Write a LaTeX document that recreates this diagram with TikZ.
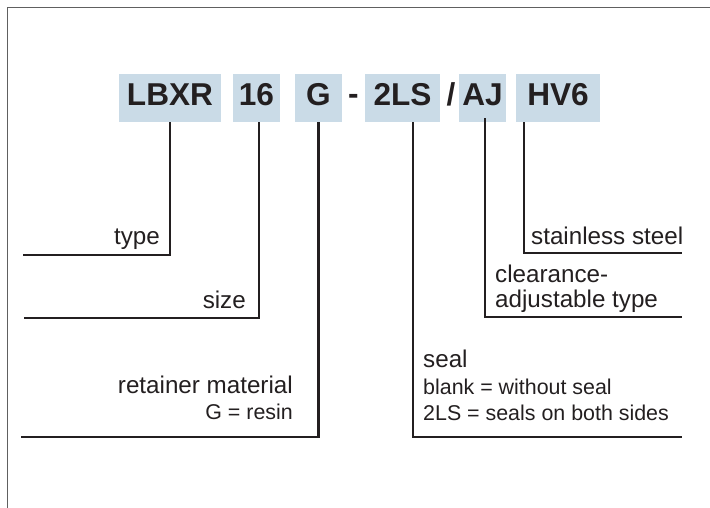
\documentclass[tikz,border=0pt]{standalone}
\usepackage{fontspec}
\setmainfont{Liberation Sans}
\usepackage{tikz}
\usepackage{xcolor}
\usetikzlibrary{positioning, calc}
\definecolor{codeblue}{RGB}{202,219,231}
\definecolor{inkblack}{RGB}{35,31,32}

\begin{document}
\begin{tikzpicture}[x=1pt, y=-1pt,
        every node/.style={text=inkblack, inner sep=0pt},
        code/.style={fill=codeblue, minimum height=48pt, font=\fontsize{31.6}{34}\selectfont\bfseries, text height=22.7pt, text depth=7pt},
        sep/.style={font=\fontsize{31.6}{34}\selectfont\bfseries, text height=22.7pt, text depth=7pt},
        lead/.style={draw=inkblack, line width=2.3pt},
        lbl/.style={font=\fontsize{24.2}{28}\selectfont},
        note/.style={font=\fontsize{21.4}{25}\selectfont}]
        \useasboundingbox (0,0) rectangle (710,508);

        % Cadre
        \draw[gray!75!black, line width=1.3pt] (710,7.5) -- (7.3,7.5) -- (7.3,508);

        % Designation
        \node[code, minimum width=102pt] (LBXR) at (170,98) {LBXR};
        \node[code, minimum width=47pt] (SZ) at (256.5,98) {16};
        \node[code, minimum width=47pt] (G) at (318.5,98) {G};
        \node[sep, yshift=1.5pt] (DASH) at (353.5,98) {-};
        \node[code, minimum width=75pt] (LS) at (402.5,98) {2LS};
        \node[sep] (SL) at (451,98) {/};
        \node[code, minimum width=47pt] (AJ) at (482.5,98) {AJ};
        \node[code, minimum width=84pt] (HV) at (558,98) {HV6};

        % Line ends
        \coordinate (tE) at (23,255);
        \coordinate (sE) at (24,318);
        \coordinate (mE) at (21,437);
        \coordinate (hE) at (682,253);
        \coordinate (aE) at (682,317);
        \coordinate (seE) at (682,437);

        % Leader lines
        \draw[lead] (LBXR.south) |- (tE);
        \draw[lead] ([xshift=2.5pt]SZ.south) |- (sE);
        \draw[lead] (G.south) |- (mE);
        \draw[lead] ([xshift=10.5pt]LS.south) |- (seE);
        \draw[lead] ([xshift=2.5pt, yshift=4pt]AJ.south) |- (aE);
        \draw[lead] ([xshift=8pt]HV.south west) |- (hE);

        % Labels
        \node[lbl, anchor=base east] (TYPE) at (160,244) {type};
        \node[lbl, anchor=base east] (SIZE) at (246,308) {size};
        \node[lbl, anchor=base east] (RET) at (293,393) {retainer material};
        \node[note, anchor=base east] (RES) at (293,419) {G = resin};
        \node[lbl, anchor=base west] (STL) at (531,244) {stainless steel};
        \node[lbl, anchor=base west] (CLR) at (495,282) {clearance-};
        \node[lbl, anchor=base west] (ADJ) at (495,307) {adjustable type};
        \node[lbl, anchor=base west] (SEAL) at (423,367) {seal};
        \node[note, anchor=base west] (BLK) at (423,394) {blank = without seal};
        \node[note, anchor=base west] (BTH) at (423,420) {2LS = seals on both sides};

    \end{tikzpicture}
\end{document}
